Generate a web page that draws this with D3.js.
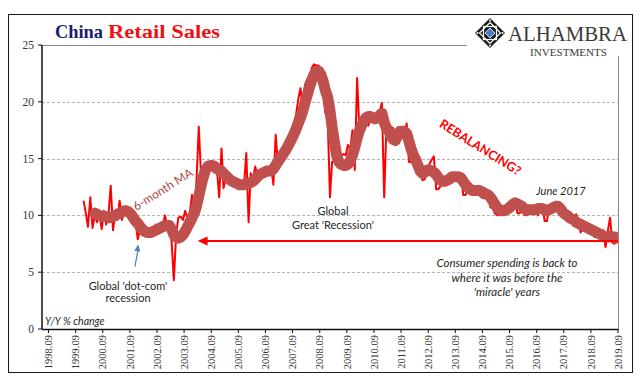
<!DOCTYPE html>
<html><head><meta charset="utf-8">
<script src="https://cdn.jsdelivr.net/npm/d3@7"></script>
<style>body{margin:0;background:#fff}svg{display:block}</style>
</head><body>
<svg id="c" width="640" height="380"></svg>
<script>
// ---------------- DATA ----------------
// China retail sales, Y/Y % change, monthly from Jan 2000 to Sep 2019
const dataStart = "2000-01-01";
const retailSales = [
  11.3, 10.2, 9.0, 11.6, 8.9, 10.0, 9.4, 10.3, 8.8, 10.4, 9.2, 10.0,   // 2000
  12.6, 8.7, 10.1, 9.6, 11.3, 9.6, 10.4, 10.0, 10.6, 10.2, 9.7, 9.4,   // 2001
  7.9, 8.8, 8.6, 8.5, 8.7, 8.5, 8.9, 8.7, 9.2, 8.9, 9.3, 9.0,          // 2002
  10.0, 9.1, 9.1, 7.7, 4.3, 8.3, 9.8, 9.9, 9.6, 10.4, 9.7, 10.2,       // 2003
  11.8, 9.3, 13.0, 17.8, 13.6, 14.2, 14.0, 14.4, 14.3, 14.6, 14.0, 14.1, // 2004
  11.6, 15.9, 12.4, 13.4, 13.0, 12.9, 12.6, 12.8, 12.5, 12.9, 12.5, 12.6, // 2005
  15.5, 9.4, 13.7, 13.2, 14.3, 13.6, 13.7, 13.8, 13.9, 14.3, 13.7, 14.3, // 2006
  12.7, 17.1, 14.7, 15.2, 15.9, 15.4, 16.4, 17.1, 17.0, 18.1, 18.8, 20.2, // 2007
  21.2, 19.1, 21.5, 22.0, 21.6, 23.0, 23.3, 23.2, 23.2, 22.0, 20.8, 19.0, // 2008
  18.5, 11.6, 14.7, 14.8, 15.2, 15.0, 15.2, 15.4, 15.3, 16.2, 15.8, 17.5, // 2009
  14.0, 22.1, 18.0, 18.5, 18.7, 18.3, 17.9, 18.4, 18.8, 18.6, 18.7, 19.1, // 2010
  19.9, 11.6, 17.4, 17.1, 16.9, 17.7, 17.2, 17.0, 17.7, 17.2, 17.3, 18.1, // 2011
  14.7, 14.7, 15.2, 14.1, 13.8, 13.7, 13.1, 13.2, 14.2, 14.5, 14.9, 15.2, // 2012
  12.3, 12.3, 12.6, 12.8, 12.9, 13.3, 13.2, 13.4, 13.3, 13.3, 13.7, 13.6, // 2013
  11.8, 11.8, 12.2, 11.9, 12.5, 12.4, 12.2, 11.9, 11.6, 11.5, 11.7, 11.9, // 2014
  10.7, 10.7, 10.2, 10.0, 10.1, 10.6, 10.5, 10.8, 10.9, 11.0, 11.2, 11.1, // 2015
  10.2, 10.2, 10.5, 10.1, 10.0, 10.6, 10.2, 10.6, 10.7, 10.0, 10.8, 10.9, // 2016
  9.5, 9.5, 10.9, 10.7, 10.7, 11.0, 10.4, 10.1, 10.3, 10.0, 10.2, 9.4,   // 2017
  9.7, 9.7, 10.1, 9.4, 8.5, 9.0, 8.8, 9.0, 9.2, 8.6, 8.1, 8.2,          // 2018
  8.2, 8.2, 8.7, 7.2, 8.6, 9.8, 7.6, 7.5, 7.8                          // 2019
];
// 6-month moving average, monthly from Jun 2000 to Sep 2019
const maStart = "2000-06-01";
const movingAvg = [
  10.2, 10.1, 10.0, 9.9, 9.9, 9.9, 9.8,                                  // 2000 (Jun-Dec)
  9.8, 9.9, 10.0, 10.1, 10.2, 10.3, 10.4, 10.4, 10.3, 10.1, 9.8, 9.5,     // 2001
  9.3, 9.0, 8.8, 8.6, 8.5, 8.5, 8.5, 8.6, 8.7, 8.8, 8.9, 9.0,             // 2002
  9.1, 9.1, 9.1, 8.8, 8.3, 8.1, 8.0, 8.1, 8.3, 8.6, 9.0, 9.4,             // 2003
  9.8, 10.2, 10.8, 11.7, 12.6, 13.4, 14.0, 14.3, 14.4, 14.4, 14.3, 14.1,  // 2004
  14.0, 13.9, 13.7, 13.5, 13.3, 13.1, 13.0, 12.9, 12.8, 12.7, 12.7, 12.7, // 2005
  12.8, 12.8, 12.9, 13.0, 13.2, 13.4, 13.6, 13.7, 13.8, 13.9, 13.9, 13.9, // 2006
  14.1, 14.4, 14.7, 15.0, 15.3, 15.6, 15.9, 16.3, 16.7, 17.1, 17.6, 18.1, // 2007
  18.6, 19.2, 19.9, 20.6, 21.3, 21.9, 22.4, 22.7, 22.7, 22.4, 21.8, 21.0, // 2008
  20.4, 19.2, 17.8, 16.5, 15.3, 14.7, 14.5, 14.4, 14.4, 14.5, 14.8, 15.3, // 2009
  16.0, 16.8, 17.4, 17.9, 18.3, 18.6, 18.7, 18.7, 18.6, 18.5, 18.6, 18.8, // 2010
  19.0, 18.2, 17.7, 17.5, 17.0, 16.7, 16.6, 17.0, 17.4, 17.4, 17.4, 17.2, // 2011
  16.5, 15.8, 15.3, 14.9, 14.4, 13.9, 13.7, 13.8, 14.0, 14.0, 13.9, 13.8, // 2012
  13.6, 13.3, 13.1, 13.0, 13.0, 13.1, 13.2, 13.4, 13.4, 13.4, 13.4, 13.3, // 2013
  13.0, 12.7, 12.5, 12.3, 12.2, 12.2, 12.2, 12.2, 12.1, 12.0, 11.9, 11.8, // 2014
  11.6, 11.3, 11.0, 10.7, 10.5, 10.4, 10.4, 10.5, 10.6, 10.8, 11.0, 11.1, // 2015
  11.0, 10.9, 10.8, 10.6, 10.5, 10.5, 10.5, 10.5, 10.5, 10.6, 10.6, 10.6, // 2016
  10.5, 10.4, 10.5, 10.6, 10.7, 10.8, 10.8, 10.6, 10.3, 10.1, 10.0, 9.8,  // 2017
  9.7, 9.6, 9.4, 9.3, 9.2, 9.1, 9.0, 8.9, 8.8, 8.7, 8.6, 8.5,             // 2018
  8.4, 8.3, 8.2, 8.1, 8.1, 8.2, 8.1, 8.1, 8.0                             // 2019
];
const xTickYears = d3.range(1998, 2020);      // labels "YYYY.09"
const yTicks = [0, 5, 10, 15, 20, 25];
const gridValues = [5, 10, 15, 20];
const arrowLevel = 7.75;                        // "back to where it was" level
const arrowFrom = "2004-03-16", arrowTo = "2019-09-16";

// ---------------- SCALES ----------------
const svg = d3.select("#c");
const P = {left: 42, right: 618, top: 45, bottom: 329};
const parse = d3.timeParse("%Y-%m-%d");
const x = d3.scaleTime()
  .domain([new Date(1998, 8, 16), new Date(2019, 8, 16)])
  .range([48.5, 618]);
const y = d3.scaleLinear().domain([0, 25]).range([P.bottom, P.top]);

const rsData = retailSales.map((v, i) => ({d: d3.timeMonth.offset(parse(dataStart), i), v}));
const maData = movingAvg.map((v, i) => ({d: d3.timeMonth.offset(parse(maStart), i), v}));

// outer frame
svg.append("rect").attr("x", 8.5).attr("y", 14.5).attr("width", 624).attr("height", 358)
  .attr("fill", "none").attr("stroke", "#1a1a1a").attr("stroke-width", 1);

// gridlines
svg.append("g").selectAll("line").data(gridValues).join("line")
  .attr("x1", P.left).attr("x2", P.right)
  .attr("y1", d => Math.round(y(d)) + 0.5).attr("y2", d => Math.round(y(d)) + 0.5)
  .attr("stroke", "#b4b4b4").attr("stroke-width", 1).attr("stroke-dasharray", "3,2");

// plot border (top + right)
svg.append("path")
  .attr("d", `M${P.left},${P.top + 0.5}H${P.right + 0.5}V${P.bottom}`)
  .attr("fill", "none").attr("stroke", "#8a8a8a").attr("stroke-width", 1);

// clip
svg.append("defs").append("clipPath").attr("id", "clip")
  .append("rect").attr("x", P.left).attr("y", P.top - 10)
  .attr("width", P.right - P.left).attr("height", P.bottom - P.top + 10);

const plot = svg.append("g").attr("clip-path", "url(#clip)");
const line = d3.line().x(d => x(d.d)).y(d => y(d.v));
plot.append("path").datum(rsData).attr("d", line)
  .attr("fill", "none").attr("stroke", "#ff0000").attr("stroke-width", 2)
  .attr("stroke-linejoin", "round");
plot.append("path").datum(maData).attr("d", line)
  .attr("fill", "none").attr("stroke", "#c0504d").attr("stroke-width", 11)
  .attr("stroke-linejoin", "round").attr("stroke-linecap", "round");

// axes
const yAxis = svg.append("g");
yAxis.append("line").attr("x1", P.left).attr("x2", P.left).attr("y1", P.top).attr("y2", P.bottom)
  .attr("stroke", "#111").attr("stroke-width", 1.5);
yAxis.selectAll(".t").data(yTicks).join("line")
  .attr("x1", P.left - 4).attr("x2", P.left).attr("y1", d => y(d)).attr("y2", d => y(d))
  .attr("stroke", "#111").attr("stroke-width", 1);
yAxis.selectAll("text").data(yTicks).join("text")
  .attr("x", 34).attr("y", d => y(d)).attr("dy", "0.35em").attr("text-anchor", "end")
  .attr("font-family", "Liberation Serif").attr("font-size", 11.5).attr("fill", "#333")
  .text(d => d);

const xAxis = svg.append("g");
xAxis.append("line").attr("x1", P.left).attr("x2", P.right + 0.5).attr("y1", P.bottom + 0.5).attr("y2", P.bottom + 0.5)
  .attr("stroke", "#111").attr("stroke-width", 1.5);
const tickDates = xTickYears.map(yr => new Date(yr, 8, 16));
xAxis.selectAll(".t").data(tickDates).join("line")
  .attr("x1", d => x(d)).attr("x2", d => x(d)).attr("y1", P.bottom).attr("y2", P.bottom + 4)
  .attr("stroke", "#111").attr("stroke-width", 1);
xAxis.selectAll("text").data(tickDates).join("text")
  .attr("transform", d => `translate(${x(d)},${P.bottom + 6}) rotate(-90)`)
  .attr("dy", "0.35em").attr("text-anchor", "end")
  .attr("font-family", "Liberation Serif").attr("font-size", 10.5).attr("fill", "#333")
  .text(d => d3.timeFormat("%Y")(d) + ".09");

// ---------------- ANNOTATIONS ----------------
const sans = "Lato, 'Liberation Sans', sans-serif";
// red horizontal arrow
const ax1 = x(parse(arrowFrom)), ax2 = x(parse(arrowTo)), ay = y(arrowLevel);
svg.append("line").attr("x1", ax1 + 8).attr("x2", ax2).attr("y1", ay).attr("y2", ay)
  .attr("stroke", "#ff0000").attr("stroke-width", 2);
svg.append("path").attr("d", `M${ax1},${ay}L${ax1 + 10},${ay - 4.5}L${ax1 + 10},${ay + 4.5}Z`)
  .attr("fill", "#ff0000");

// blue arrow
const bx1 = x(new Date(2001, 10, 22)), by1 = y(5.5), bx2 = x(new Date(2002, 0, 8)), by2 = y(7.45);
svg.append("line").attr("x1", bx1).attr("y1", by1).attr("x2", bx2).attr("y2", by2 + 4)
  .attr("stroke", "#4f81bd").attr("stroke-width", 1.2);
{
  const ang = Math.atan2(by2 - by1, bx2 - bx1);
  const L = 7, W = 3;
  const p1 = [bx2 - L * Math.cos(ang) + W * Math.sin(ang), by2 - L * Math.sin(ang) - W * Math.cos(ang)];
  const p2 = [bx2 - L * Math.cos(ang) - W * Math.sin(ang), by2 - L * Math.sin(ang) + W * Math.cos(ang)];
  svg.append("path").attr("d", `M${bx2},${by2}L${p1}L${p2}Z`).attr("fill", "#4f81bd");
}

const txt = (s, xx, yy, opt = {}) => svg.append("text").attr("x", xx).attr("y", yy)
  .attr("font-family", opt.family || sans).attr("font-size", opt.size || 11)
  .attr("font-style", opt.italic ? "italic" : "normal")
  .attr("font-weight", opt.bold ? "bold" : "normal")
  .attr("fill", opt.fill || "#262626").attr("text-anchor", opt.anchor || "middle")
  .attr("transform", opt.rotate ? `rotate(${opt.rotate},${xx},${yy})` : null)
  .text(s);

txt("Global 'dot-com'", 128, 290, {size: 11});
txt("recession", 128, 302, {size: 11});
txt("Global", 333, 215, {size: 11});
txt("Great 'Recession'", 333, 229, {size: 11});
txt("6-month MA", 165, 193, {size: 12, fill: "#b04a47", rotate: -32});
txt("REBALANCING?", 478, 151, {size: 12.5, bold: true, fill: "#ff0000", rotate: 32});
txt("June 2017", 561, 195, {size: 11, italic: true});
txt("Consumer spending is back to", 507, 267, {size: 11.5, italic: true});
txt("where it was before the", 507, 282, {size: 11.5, italic: true});
txt("'miracle' years", 507, 296, {size: 11.5, italic: true});
txt("Y/Y % change", 45, 325, {size: 10.5, italic: true, anchor: "start"});

// title
svg.append("text").attr("x", 55).attr("y", 37.5)
  .attr("font-family", "Liberation Serif").attr("font-weight", "bold").attr("font-size", 19.5)
  .attr("fill", "#1c1c6b").attr("textLength", 48).attr("lengthAdjust", "spacingAndGlyphs").text("China");
svg.append("text").attr("x", 108).attr("y", 37.5)
  .attr("font-family", "Liberation Serif").attr("font-weight", "bold").attr("font-size", 19.5)
  .attr("fill", "#ee1111").attr("textLength", 112).attr("lengthAdjust", "spacingAndGlyphs").text("Retail Sales");

// logo
svg.append("rect").attr("x", 467).attr("y", 15).attr("width", 165).attr("height", 41).attr("fill", "#fff");
const lg = svg.append("g").attr("transform", "translate(490,33)");
lg.append("path").attr("d", "M0,-15L15,0L0,15L-15,0Z").attr("fill", "#1e1e1e");
lg.append("rect").attr("x", -6.5).attr("y", -6.5).attr("width", 13).attr("height", 13)
  .attr("fill", "none").attr("stroke", "#fff").attr("stroke-width", 1.2);
lg.append("path").attr("d", "M0,-10.5L10.5,0L0,10.5L-10.5,0Z")
  .attr("fill", "none").attr("stroke", "#fff").attr("stroke-width", 1.1);
lg.append("path").attr("d", "M0,-5L5,0L0,5L-5,0Z").attr("fill", "#4a7cc8")
  .attr("stroke", "#fff").attr("stroke-width", 0.8);
[[0, -12.5], [12.5, 0], [0, 12.5], [-12.5, 0]].forEach(([a, b]) =>
  lg.append("circle").attr("cx", a).attr("cy", b).attr("r", 1).attr("fill", "#fff"));
svg.append("text").attr("x", 508).attr("y", 41)
  .attr("font-family", "Liberation Serif").attr("font-size", 20.5).attr("fill", "#3a3a3a")
  .attr("textLength", 119).attr("lengthAdjust", "spacingAndGlyphs").text("ALHAMBRA");
svg.append("text").attr("x", 530).attr("y", 55.5)
  .attr("font-family", "Liberation Serif").attr("font-size", 10).attr("fill", "#3a3a3a")
  .attr("textLength", 77).attr("lengthAdjust", "spacingAndGlyphs").text("INVESTMENTS");
</script>
</body></html>
